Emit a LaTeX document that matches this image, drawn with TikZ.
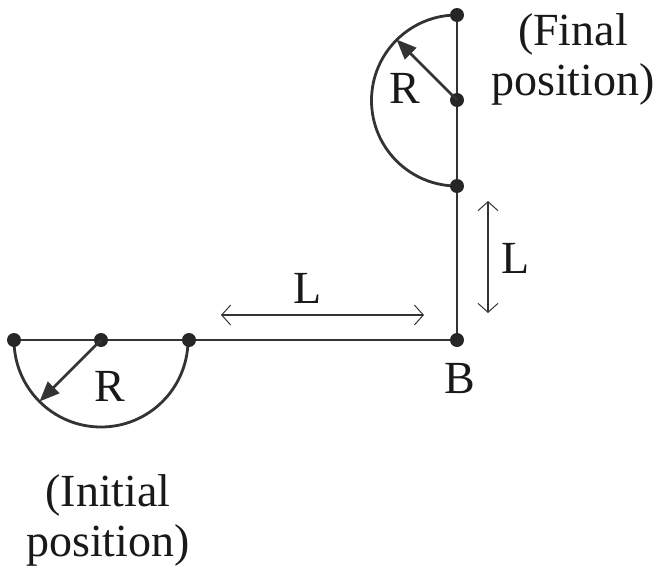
\documentclass[tikz,border=0pt]{standalone}
\usepackage{fontspec}
\setmainfont{Liberation Serif}
\usetikzlibrary{arrows.meta}
\definecolor{ink}{HTML}{333333}
\begin{document}
\begin{tikzpicture}[x=1pt,y=-1pt,
  bar/.style={draw=ink,line width=2.8pt},
  dotpt/.style={circle,fill=black!85,inner sep=0pt,minimum size=14pt},
  radius arrow/.style={draw=ink,line width=2.8pt,-{Triangle[length=20pt,width=16pt]}},
  dim arrow/.style={draw=ink,line width=2.5pt,{Straight Barb[length=9pt,width=20pt,line width=1pt]}-{Straight Barb[length=9pt,width=20pt,line width=1pt]}},
  lbl/.style={font=\fontsize{46}{50}\selectfont,text=black!90,inner sep=0pt},
  twoline/.style={lbl,align=center,font=\fontsize{46}{50}\selectfont}]
\useasboundingbox (0,0) rectangle (657,568);
% initial position
\draw[bar] (14,340) arc[start angle=180,end angle=360,radius=87*1pt];
\draw[bar] (14,340) -- (457,340) -- (457,15);
% final position arc
\draw[bar] (457,15) arc[start angle=90,end angle=270,radius=85.5*1pt];
\node[dotpt] (i1) at (14,340) {};
\node[dotpt] (i2) at (101,340) {};
\node[dotpt] (i3) at (189,340) {};
\node[dotpt] (B) at (457,340) {};
\node[dotpt] (f1) at (457,186) {};
\node[dotpt] (f2) at (457,100) {};
\node[dotpt] (f3) at (457,15) {};
\coordinate (ie) at (39.5,401.5);
\coordinate (fe) at (396.5,39.5);
\draw[radius arrow] (i2.center) -- (ie);
\draw[radius arrow] (f2.center) -- (fe);
\node[lbl] (Ri) at (110,386) {R};
\node[lbl] (Rf) at (405,88) {R};
\node[lbl] (Bl) at (460,379) {B};
% dimension arrows
\coordinate (h1) at (221,315);
\coordinate (h2) at (424,315);
\draw[dim arrow] (h1) -- (h2);
\node[lbl] (Lh) at (308,288) {L};
\coordinate (v1) at (488,201);
\coordinate (v2) at (488,313);
\draw[dim arrow] (v1) -- (v2);
\node[lbl] (Lv) at (516,258) {L};
\node[twoline] (fin) at (573,59) {(Final\\position)};
\node[twoline] (ini) at (108,520) {(Initial\\position)};
\end{tikzpicture}
\end{document}
